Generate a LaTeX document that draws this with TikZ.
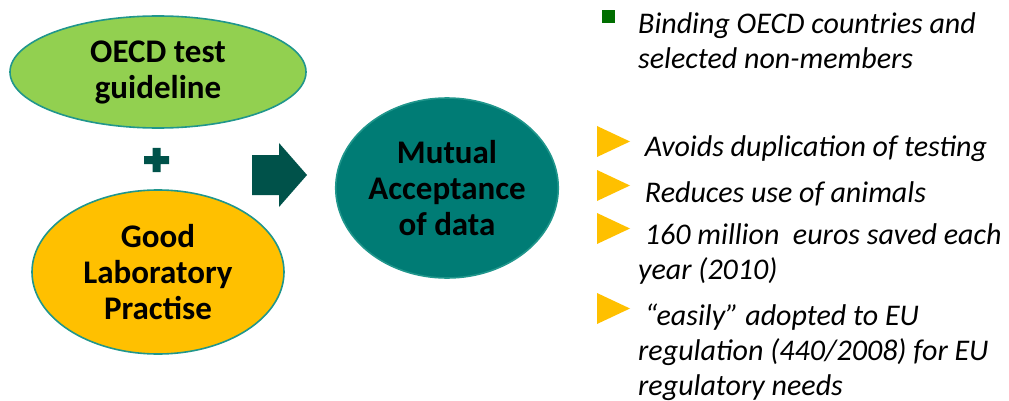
\documentclass[tikz,border=0pt]{standalone}
\usepackage{fontspec}
\setmainfont{Carlito}
\usetikzlibrary{shapes.geometric}
\definecolor{oecdgreen}{RGB}{146,208,80}
\definecolor{glpyellow}{RGB}{255,192,0}
\definecolor{madteal}{RGB}{0,124,117}
\definecolor{rimteal}{RGB}{32,150,140}
\definecolor{darkteal}{RGB}{0,82,74}
\definecolor{sqgreen}{RGB}{0,110,0}
\tikzset{
  blob/.style={ellipse,draw=rimteal,line width=1.6pt,inner sep=0pt,align=center,
    font=\fontsize{33}{36}\selectfont\bfseries},
  itemtext/.style={anchor=base west,inner sep=0pt,align=left,
    font=\fontsize{30}{35}\selectfont\itshape},
  tri/.style={fill=glpyellow,draw=none}
}
\begin{document}
\begin{tikzpicture}[x=1pt,y=-1pt]
			\useasboundingbox (0,0) rectangle (1009,401);
			% left side
			\node[blob,fill=oecdgreen,minimum width=296,minimum height=112] (guide) at (158,72) {OECD test\\guideline};
			\node[blob,fill=glpyellow,minimum width=252,minimum height=164] (glp) at (158,272) {Good\\Laboratory\\Practise};
			\fill[darkteal] (144,156) rectangle (169,164) (152.5,148) rectangle (160.5,172);
			% arrow and centre
			\fill[darkteal] (252,155) -- (279,155) -- (279,143) -- (307,175) -- (279,207) -- (279,195) -- (252,195) -- cycle;
			\node[blob,fill=madteal,minimum width=218,minimum height=180] (mad) at (447,188) {Mutual\\Acceptance\\of data};
			% right side (base = last line)
			\fill[sqgreen] (602,10) rectangle (615,23);
			\node[itemtext] (bind) at (638,69) {Binding OECD countries and\\selected non-members};
			\foreach \y in {126,170,213,293}
				\fill[tri] (597,\y) -- (630,\y+15.5) -- (597,\y+31) -- cycle;
			\node[itemtext] (dup) at (638,157) {\ Avoids duplication of testing};
			\node[itemtext] (ani) at (638,202) {\ Reduces use of animals};
			\node[itemtext] (eur) at (638,279) {\ 160 million\ \ euros saved each\\year (2010)};
			\node[itemtext] (reg) at (638,395) {\ “easily” adopted to EU\\regulation (440/2008) for EU\\regulatory needs};
		\end{tikzpicture}
\end{document}
